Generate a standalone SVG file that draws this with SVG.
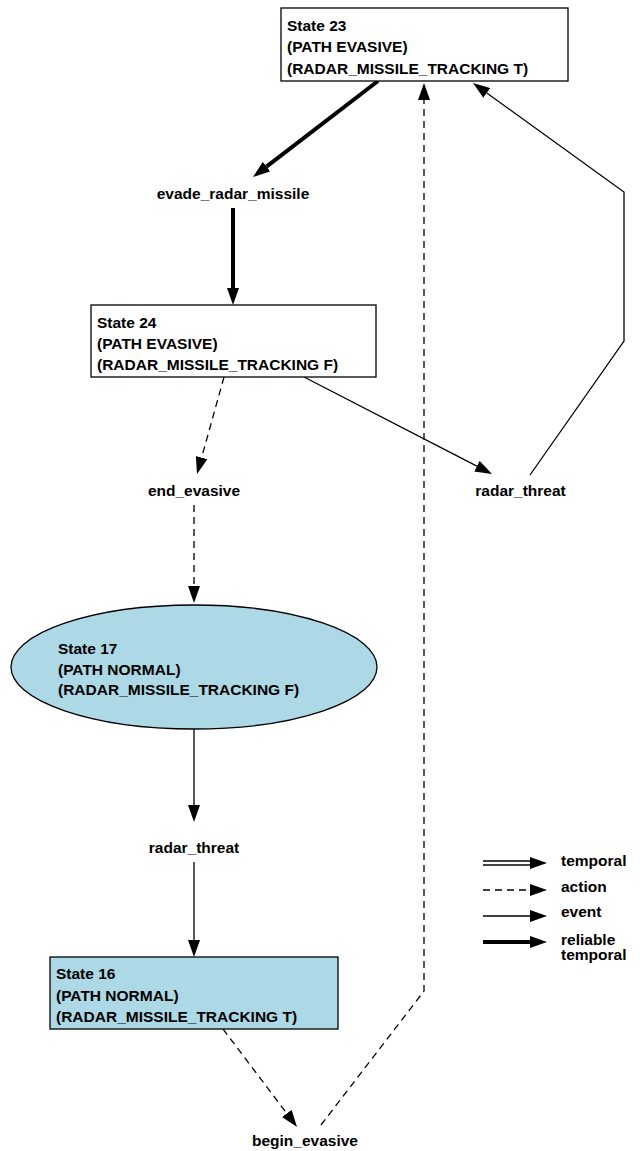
<svg xmlns="http://www.w3.org/2000/svg" width="640" height="1151" viewBox="0 0 640 1151">
<style>
  text { font-family: "Liberation Sans", Arial, Helvetica, sans-serif; font-weight: bold; font-size: 15.5px; fill: #000; }
  .mid { text-anchor: middle; }
  .box { fill: #fff; stroke: #000; stroke-width: 1.3; }
  .filled { fill: #add8e6; stroke: #000; stroke-width: 1.3; }
  .edge { fill: none; stroke: #000; stroke-width: 1.3; }
  .dash { stroke-dasharray: 7,5; }
  .thick { stroke-width: 4; }
</style>
<defs>
  <marker id="ah" viewBox="0 0 17 12" markerWidth="17" markerHeight="12" refX="0" refY="6" orient="auto" markerUnits="userSpaceOnUse">
    <path d="M0,0 L17,6 L0,12 Z" fill="#000" stroke="none"/>
  </marker>
</defs>
<rect width="640" height="1151" fill="#fff"/>

<g id="connectors">
  <path class="edge thick" d="M378,81 L266.5,166.6" marker-end="url(#ah)"/>
  <path class="edge thick" d="M233,208 L233,288" marker-end="url(#ah)"/>
  <path class="edge dash" d="M224,377 L201.6,457.6" marker-end="url(#ah)"/>
  <path class="edge dash" d="M194,505 L194,586" marker-end="url(#ah)"/>
  <path class="edge" d="M194,729 L194,805" marker-end="url(#ah)"/>
  <path class="edge" d="M194,862 L194,940" marker-end="url(#ah)"/>
  <path class="edge dash" d="M223,1029 L286.8,1113.4" marker-end="url(#ah)"/>
  <path class="edge dash" d="M321,1125 L424,991 L424,100" marker-end="url(#ah)"/>
  <path class="edge" d="M304,377 L476.9,466.2" marker-end="url(#ah)"/>
  <path class="edge" d="M530,475 L624,341 L624,192 L486.8,93" marker-end="url(#ah)"/>
</g>

<g id="state23">
  <rect class="box" x="281" y="8" width="287" height="73"/>
  <text x="287" y="31">State 23</text>
  <text x="287" y="52">(PATH EVASIVE)</text>
  <text x="287" y="73.5">(RADAR_MISSILE_TRACKING T)</text>
</g>

<g id="evade_radar_missile">
  <text class="mid" x="233" y="199">evade_radar_missile</text>
</g>

<g id="state24">
  <rect class="box" x="91" y="305" width="285" height="72"/>
  <text x="97" y="327.5">State 24</text>
  <text x="97" y="348.5">(PATH EVASIVE)</text>
  <text x="97" y="370">(RADAR_MISSILE_TRACKING F)</text>
</g>

<g id="end_evasive">
  <text class="mid" x="194" y="496">end_evasive</text>
</g>

<g id="radar_threat_1">
  <text class="mid" x="520.5" y="496">radar_threat</text>
</g>

<g id="state17">
  <ellipse class="filled" cx="194" cy="667" rx="183" ry="62"/>
  <text x="58" y="653.5">State 17</text>
  <text x="58" y="674.5">(PATH NORMAL)</text>
  <text x="58" y="695">(RADAR_MISSILE_TRACKING F)</text>
</g>

<g id="radar_threat_2">
  <text class="mid" x="194" y="853">radar_threat</text>
</g>

<g id="state16">
  <rect class="filled" x="50" y="957" width="288" height="72"/>
  <text x="56" y="979">State 16</text>
  <text x="56" y="1000.5">(PATH NORMAL)</text>
  <text x="56" y="1022">(RADAR_MISSILE_TRACKING T)</text>
</g>

<g id="begin_evasive">
  <text class="mid" x="305" y="1146">begin_evasive</text>
</g>

<g id="legend">
  <line class="edge" x1="483" y1="861" x2="531" y2="861"/>
  <line class="edge" x1="483" y1="865" x2="531" y2="865"/>
  <path d="M530,857 L547,863 L530,869 Z" fill="#000"/>
  <text x="561" y="866">temporal</text>

  <line class="edge dash" x1="483" y1="890" x2="530" y2="890"/>
  <path d="M530,884 L547,890 L530,896 Z" fill="#000"/>
  <text x="561" y="892">action</text>

  <line class="edge" x1="483" y1="916" x2="530" y2="916"/>
  <path d="M530,910 L547,916 L530,922 Z" fill="#000"/>
  <text x="561" y="917">event</text>

  <line class="edge thick" x1="483" y1="942" x2="530" y2="942"/>
  <path d="M530,936 L547,942 L530,948 Z" fill="#000"/>
  <text x="561" y="945">reliable</text>
  <text x="561" y="960">temporal</text>
</g>
</svg>
